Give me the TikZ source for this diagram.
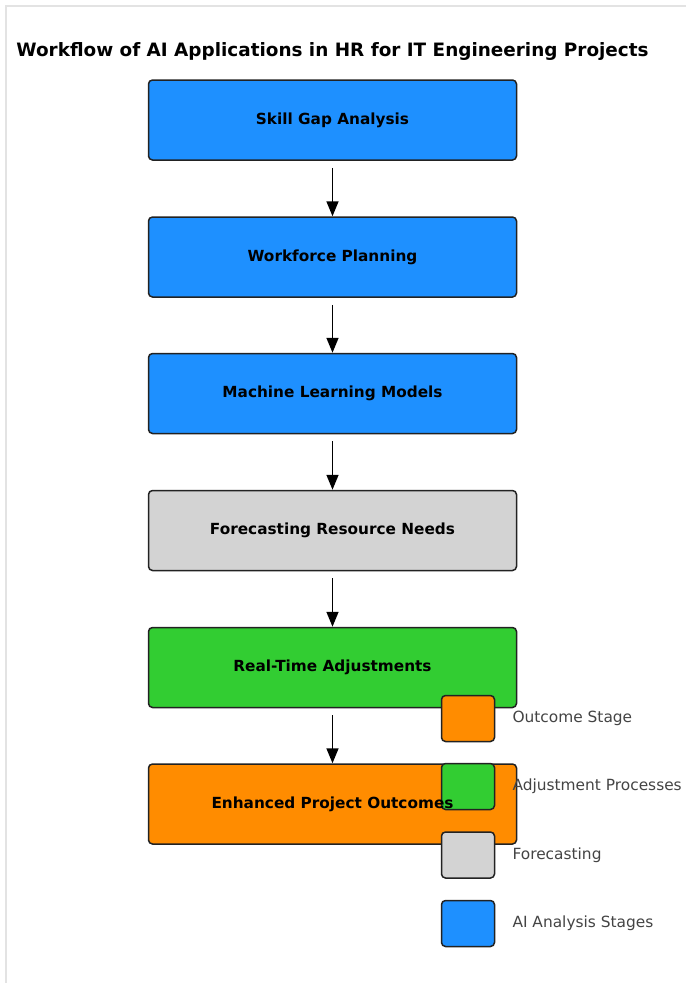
\documentclass[tikz,border=0pt]{standalone}
\usepackage{fontspec}
\setmainfont{DejaVu Sans}
\usetikzlibrary{arrows.meta}

\definecolor{aiblue}{HTML}{1E90FF}
\definecolor{fcgray}{HTML}{D3D3D3}
\definecolor{adjgreen}{HTML}{32CD32}
\definecolor{outorange}{HTML}{FF8C00}
\definecolor{edge}{HTML}{222222}
\definecolor{legtext}{HTML}{444444}
\definecolor{frame}{HTML}{E3E3E3}

\tikzset{
    stage/.style={draw=edge, line width=1.5pt, rounded corners=4pt,
        minimum width=368pt, minimum height=80pt},
    stagetxt/.style={font=\bfseries\fontsize{15.3}{18}\selectfont},
    legbox/.style={draw=edge, line width=1.5pt, rounded corners=4pt,
        minimum width=53pt, minimum height=46pt},
    legtxt/.style={anchor=west, text=legtext, font=\fontsize{15.4}{18}\selectfont},
    flow/.style={-{Triangle[width=12pt,length=15pt]}, line width=1.6pt}
}

\begin{document}
\begin{tikzpicture}[x=1pt,y=-1pt]
    \useasboundingbox (0,0) rectangle (686,983);
    \draw[frame, line width=1.5pt] (6,983) -- (6,6) -- (686,6);

    \node (title) at (332.5,51) {\bfseries\fontsize{18.4}{22}\selectfont Workflow of AI Applications in HR for IT Engineering Projects};

    % stages
    \node[stage, fill=aiblue] (skill) at (332.5,120) {};
    \node[stage, fill=aiblue] (plan) at (332.5,257) {};
    \node[stage, fill=aiblue] (ml) at (332.5,393.5) {};
    \node[stage, fill=fcgray] (fc) at (332.5,530.5) {};
    \node[stage, fill=adjgreen] (rt) at (332.5,667.5) {};
    \node[stage, fill=outorange] (out) at (332.5,804) {};

    \draw[flow] ([yshift=-7pt]skill.south) -- (plan.north);
    \draw[flow] ([yshift=-7pt]plan.south) -- (ml.north);
    \draw[flow] ([yshift=-7pt]ml.south) -- (fc.north);
    \draw[flow] ([yshift=-7pt]fc.south) -- (rt.north);
    \draw[flow] ([yshift=-7pt]rt.south) -- (out.north);

    % legend
    \node[legbox, fill=outorange] (lgout) at (468,718.5) {};
    \node[legbox, fill=adjgreen] (lgadj) at (468,786.5) {};
    \node[legbox, fill=fcgray] (lgfc) at (468,855) {};
    \node[legbox, fill=aiblue] (lgai) at (468,923.5) {};
    \node[legtxt] (txout) at (509,718.5) {Outcome Stage};
    \node[legtxt] (txadj) at (509,786.5) {Adjustment Processes};
    \node[legtxt] (txfc) at (509,855) {Forecasting};
    \node[legtxt] (txai) at (509,923.5) {AI Analysis Stages};

    % stage labels on top
    \node[stagetxt] (skilltxt) at (skill) {Skill Gap Analysis};
    \node[stagetxt] (plantxt) at (plan) {Workforce Planning};
    \node[stagetxt] (mltxt) at (ml) {Machine Learning Models};
    \node[stagetxt] (fctxt) at (fc) {Forecasting Resource Needs};
    \node[stagetxt] (rttxt) at (rt) {Real-Time Adjustments};
    \node[stagetxt] (outtxt) at (out) {Enhanced Project Outcomes};
\end{tikzpicture}
\end{document}
